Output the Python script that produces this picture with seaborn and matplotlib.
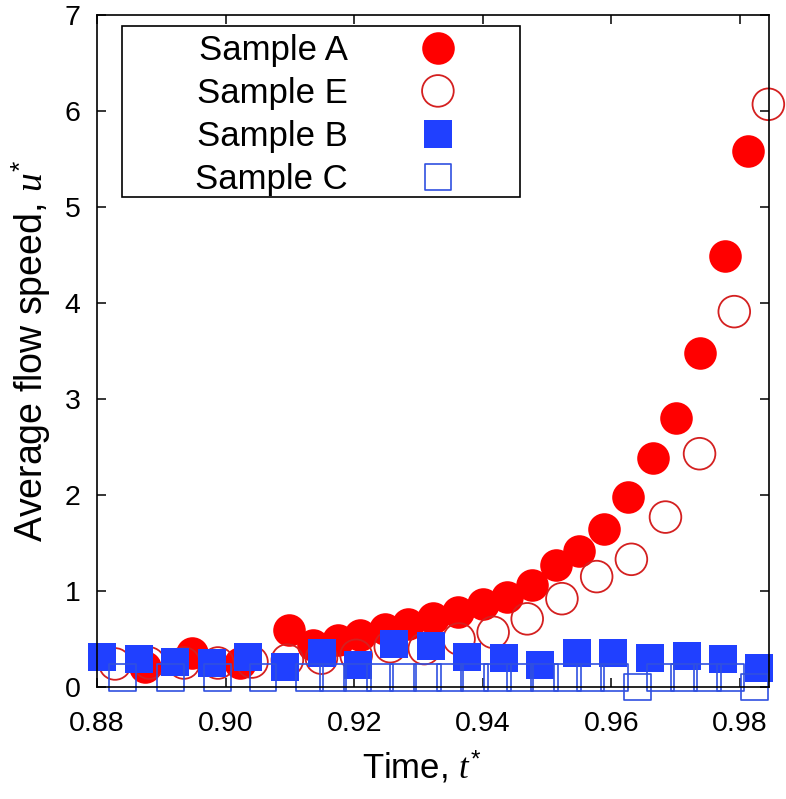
import matplotlib
matplotlib.use("Agg")
import matplotlib.pyplot as plt
from matplotlib.patches import Rectangle
import seaborn as sns

# Sample A (filled red circles)
t_a = [0.8875, 0.8948, 0.9023, 0.9099, 0.9136, 0.9174, 0.9209, 0.9248, 0.9284,
       0.9323, 0.9362, 0.9401, 0.9438, 0.9477, 0.9513, 0.9550, 0.9588, 0.9625,
       0.9664, 0.9701, 0.9737, 0.9776, 0.9813]
u_a = [0.21, 0.35, 0.25, 0.59, 0.44, 0.49, 0.54, 0.60, 0.66,
       0.72, 0.78, 0.86, 0.94, 1.06, 1.27, 1.42, 1.65, 1.98,
       2.39, 2.80, 3.48, 4.49, 5.58]

# Sample E (open red circles)
t_e = [0.8828, 0.8881, 0.8935, 0.8988, 0.9041, 0.9096, 0.9149, 0.9203, 0.9256,
       0.9309, 0.9363, 0.9416, 0.9469, 0.9523, 0.9577, 0.9631, 0.9684, 0.9737,
       0.9791, 0.9844]
u_e = [0.24, 0.25, 0.25, 0.25, 0.26, 0.28, 0.30, 0.33, 0.42,
       0.40, 0.50, 0.57, 0.71, 0.92, 1.15, 1.33, 1.77, 2.43,
       3.91, 6.07]

# Sample B (filled blue squares)
t_b = [0.8808, 0.8865, 0.8921, 0.8979, 0.9035, 0.9092, 0.9150, 0.9206, 0.9262,
       0.9320, 0.9376, 0.9433, 0.9489, 0.9547, 0.9603, 0.9660, 0.9718, 0.9774,
       0.9830]
u_b = [0.31, 0.29, 0.26, 0.25, 0.31, 0.21, 0.35, 0.23, 0.45,
       0.43, 0.31, 0.30, 0.23, 0.35, 0.35, 0.30, 0.32, 0.29,
       0.20]

# Sample C (open blue squares)
t_c = [0.8840, 0.8914, 0.8987, 0.9058, 0.9131, 0.9167, 0.9205, 0.9240, 0.9276,
       0.9314, 0.9349, 0.9387, 0.9423, 0.9458, 0.9496, 0.9532, 0.9567, 0.9605,
       0.9640, 0.9676, 0.9713, 0.9749, 0.9785, 0.9822]
u_c = [0.10, 0.10, 0.10, 0.10, 0.10, 0.10, 0.10, 0.10, 0.10,
       0.10, 0.10, 0.10, 0.10, 0.10, 0.10, 0.10, 0.10, 0.10,
       0.00, 0.10, 0.10, 0.10, 0.10, 0.00]

x_ticks = [0.88, 0.90, 0.92, 0.94, 0.96, 0.98]
y_ticks = [0, 1, 2, 3, 4, 5, 6, 7]

sns.set_theme(style="ticks")
plt.rcParams["font.family"] = ["Liberation Sans", "DejaVu Sans"]
plt.rcParams["mathtext.fontset"] = "custom"
plt.rcParams["mathtext.it"] = "Liberation Serif:italic"
plt.rcParams["mathtext.rm"] = "Liberation Sans"
plt.rcParams["text.color"] = "black"
plt.rcParams["axes.labelcolor"] = "black"

fig = plt.figure(figsize=(7.86, 7.99), dpi=100)
ax = fig.add_axes([97 / 786, 112 / 799, 672 / 786, 672 / 799])

red = "#ff0000"
red_edge = "#d42020"
blue = "#2040ff"
blue_edge = "#3050e0"

sns.scatterplot(x=t_a, y=u_a, ax=ax, marker="o", s=550, color=red,
                edgecolor=red, linewidth=0, label="Sample A", clip_on=False, zorder=3)
sns.scatterplot(x=t_e, y=u_e, ax=ax, marker="o", s=520, facecolor="none",
                edgecolor=red_edge, linewidth=1.3, label="Sample E", clip_on=False, zorder=4)
sns.scatterplot(x=t_b, y=u_b, ax=ax, marker="s", s=390, color=blue,
                edgecolor=blue, linewidth=0, label="Sample B", clip_on=False, zorder=5)
sns.scatterplot(x=t_c, y=u_c, ax=ax, marker="s", s=370, facecolor="none",
                edgecolor=blue_edge, linewidth=1.2, label="Sample C", clip_on=False, zorder=6)

ax.set_xlim(0.88, 0.9845)
ax.set_ylim(0, 7)
ax.set_xticks(x_ticks)
ax.set_xticklabels([f"{v:.2f}" for v in x_ticks])
ax.set_yticks(y_ticks)
ax.tick_params(direction="in", length=6.5, width=1.1, top=True, right=True,
               labelsize=20.5, colors="black")
ax.tick_params(axis="x", pad=17)
ax.tick_params(axis="y", pad=12)
for sp in ax.spines.values():
    sp.set_visible(True)
    sp.set_linewidth(1.2)
    sp.set_color("black")
    sp.set_zorder(10)

ax.set_xlabel("Time, $t^{*}$", fontsize=25, labelpad=12)
ax.set_ylabel("Average flow speed, $u^{*}$", fontsize=27, labelpad=8)
ax.xaxis.set_label_coords((422 - 97) / 672, -0.092)

# legend box drawn like the gnuplot key
box = Rectangle((122 / 786, 1 - 197 / 799), 398 / 786, 171 / 799,
                transform=fig.transFigure, facecolor="white", edgecolor="black",
                linewidth=1.2, zorder=20, clip_on=False)
ax.add_patch(box)

leg = ax.legend(loc="upper left", bbox_to_anchor=(195 / 786, 1 - 34 / 799),
                bbox_transform=fig.transFigure, frameon=False, markerfirst=False,
                fontsize=25, scatterpoints=1, scatteryoffsets=[0.5],
                handlelength=0.6, handletextpad=2.3, labelspacing=0.29,
                borderpad=0.0, borderaxespad=0.0)
leg.set_zorder(30)
for txt in leg.get_texts():
    txt.set_color("black")

fig.savefig("out.png", dpi=100)
